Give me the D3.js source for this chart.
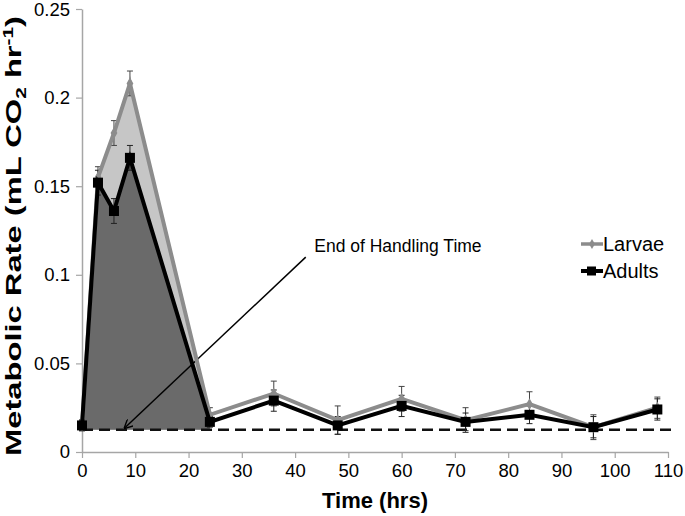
<!DOCTYPE html>
<html><head><meta charset="utf-8">
<script src="https://cdn.jsdelivr.net/npm/d3@7"></script>
<style>body{margin:0;background:#fff}svg{display:block;font-family:"Liberation Sans",Arial,sans-serif}</style>
</head><body><svg id="c" width="685" height="516"></svg>
<script>
const times = [0, 3, 6, 9, 24, 36, 48, 60, 72, 84, 96, 108];
const larvae = [0.015, 0.155, 0.180, 0.208, 0.021, 0.033, 0.018, 0.030, 0.018, 0.027, 0.014, 0.025];
const larvaeErr = [0.003, 0.006, 0.007, 0.007, 0.004, 0.007, 0.008, 0.007, 0.007, 0.007, 0.007, 0.006];
const adults = [0.015, 0.152, 0.136, 0.166, 0.017, 0.029, 0.015, 0.026, 0.017, 0.021, 0.014, 0.024];
const adultsErr = [0.003, 0.007, 0.007, 0.007, 0.003, 0.006, 0.005, 0.006, 0.005, 0.005, 0.006, 0.006];
const xTicks = [0, 10, 20, 30, 40, 50, 60, 70, 80, 90, 100, 110];
const yTicks = [0, 0.05, 0.1, 0.15, 0.2, 0.25];
const baseline = 0.0125;
const handlingEnd = 24;
const annotation = {text: "End of Handling Time", from: [42, 0.110], to: [8, 0.0135], label: [43.6, 0.113]};

const svg = d3.select("#c");
const x = d3.scaleLinear().domain([0, 110]).range([82, 668]);
const y = d3.scaleLinear().domain([0, 0.25]).range([452, 9]);

const larvaeData = times.map((t, i) => ({t, v: larvae[i], e: larvaeErr[i]}));
const adultsData = times.map((t, i) => ({t, v: adults[i], e: adultsErr[i]}));

// areas for handling period
const area = d3.area().x(d => x(d.t)).y0(y(baseline)).y1(d => y(d.v));
svg.append("path").datum(larvaeData.filter(d => d.t <= handlingEnd))
  .attr("d", area).attr("fill", "#c6c6c6");
svg.append("path").datum(adultsData.filter(d => d.t <= handlingEnd))
  .attr("d", area).attr("fill", "#6a6a6a");

// axes
const axisColor = "#a6a6a6";
const xAxis = svg.append("g").attr("transform", `translate(0,${y(0)})`)
  .call(d3.axisBottom(x).tickValues(xTicks).tickSize(6).tickSizeOuter(0).tickPadding(6).tickFormat(d3.format("d")));
const yAxis = svg.append("g").attr("transform", `translate(${x(0)},0)`)
  .call(d3.axisLeft(y).tickValues(yTicks).tickSize(6).tickSizeOuter(0).tickPadding(6).tickFormat(d => d === 0 ? "0" : String(+d.toFixed(2))));
[xAxis, yAxis].forEach(g => {
  g.selectAll("path.domain").attr("stroke", axisColor).attr("stroke-width", 1.5);
  g.selectAll(".tick line").attr("stroke", axisColor).attr("stroke-width", 1.2);
  g.selectAll(".tick text").attr("font-size", 18.5).attr("fill", "#000").attr("font-family", "Liberation Sans, Arial, sans-serif");
});
yAxis.selectAll(".tick text").filter(d => d === 0.25).attr("dy", "0.36em");

// dashed baseline
svg.append("line").attr("x1", x(0)).attr("x2", x(110) + 4)
  .attr("y1", y(baseline)).attr("y2", y(baseline))
  .attr("stroke", "#111").attr("stroke-width", 2.5).attr("stroke-dasharray", "11,6");

// arrow
svg.append("defs").append("marker").attr("id", "ah").attr("viewBox", "0 0 10 10")
  .attr("refX", 9).attr("refY", 5).attr("markerWidth", 9).attr("markerHeight", 9)
  .attr("markerUnits", "userSpaceOnUse").attr("orient", "auto")
  .append("path").attr("d", "M0,0 L10,5 L0,10").attr("fill", "none").attr("stroke", "#000").attr("stroke-width", 1.5);
svg.append("line")
  .attr("x1", x(annotation.from[0])).attr("y1", y(annotation.from[1]))
  .attr("x2", x(annotation.to[0])).attr("y2", y(annotation.to[1]))
  .attr("stroke", "#000").attr("stroke-width", 1.5).attr("marker-end", "url(#ah)");
svg.append("text").attr("x", x(annotation.label[0])).attr("y", y(annotation.label[1]))
  .attr("font-size", 17.5).text(annotation.text);

// error bars
function errBars(data, color) {
  const g = svg.append("g").attr("stroke", color).attr("stroke-width", 1);
  data.forEach(d => {
    const cx = x(d.t), y1 = y(d.v + d.e), y2 = y(d.v - d.e);
    g.append("line").attr("x1", cx).attr("x2", cx).attr("y1", y1).attr("y2", y2);
    g.append("line").attr("x1", cx - 3).attr("x2", cx + 3).attr("y1", y1).attr("y2", y1);
    g.append("line").attr("x1", cx - 3).attr("x2", cx + 3).attr("y1", y2).attr("y2", y2);
  });
}
errBars(larvaeData, "#444");
errBars(adultsData, "#222");

const line = d3.line().x(d => x(d.t)).y(d => y(d.v));
// larvae line
svg.append("path").datum(larvaeData).attr("d", line).attr("fill", "none")
  .attr("stroke", "#8c8c8c").attr("stroke-width", 4).attr("stroke-linejoin", "miter");
svg.append("g").selectAll("path").data(larvaeData).join("path")
  .attr("d", d3.symbol(d3.symbolDiamond, 40)())
  .attr("transform", d => `translate(${x(d.t)},${y(d.v)})`).attr("fill", "#8c8c8c");
// adults line
svg.append("path").datum(adultsData).attr("d", line).attr("fill", "none")
  .attr("stroke", "#000").attr("stroke-width", 4).attr("stroke-linejoin", "miter");
svg.append("g").selectAll("rect").data(adultsData).join("rect")
  .attr("x", d => x(d.t) - 5).attr("y", d => y(d.v) - 5).attr("width", 10).attr("height", 10).attr("fill", "#000");

// legend
const legend = [{name: "Larvae", color: "#8c8c8c", sym: "diamond", yy: 244}, {name: "Adults", color: "#000", sym: "square", yy: 271}];
legend.forEach(l => {
  svg.append("line").attr("x1", 581).attr("x2", 603).attr("y1", l.yy).attr("y2", l.yy)
    .attr("stroke", l.color).attr("stroke-width", l.sym === "square" ? 4 : 3.5);
  if (l.sym === "square") svg.append("rect").attr("x", 587).attr("y", l.yy - 4.5).attr("width", 9).attr("height", 9).attr("fill", l.color);
  else svg.append("path").attr("d", d3.symbol(d3.symbolDiamond, 30)()).attr("transform", `translate(592,${l.yy})`).attr("fill", l.color);
  svg.append("text").attr("x", 603).attr("y", l.yy + 7).attr("font-size", 20).text(l.name);
});

// axis titles
svg.append("text").attr("x", 375).attr("y", 508).attr("text-anchor", "middle")
  .attr("font-size", 22).attr("font-weight", "bold").text("Time (hrs)");
const yt = svg.append("text").attr("transform", "translate(21,236) rotate(-90)")
  .attr("text-anchor", "middle").attr("font-size", 22).attr("font-weight", "bold")
  .attr("textLength", 440).attr("lengthAdjust", "spacingAndGlyphs");
yt.append("tspan").text("Metabolic Rate (mL CO");
yt.append("tspan").attr("font-size", 14).attr("dy", 5).text("2");
yt.append("tspan").attr("dy", -5).text(" hr");
yt.append("tspan").attr("font-size", 14).attr("dy", -8).text("-1");
yt.append("tspan").attr("dy", 8).text(")");
</script></body></html>
